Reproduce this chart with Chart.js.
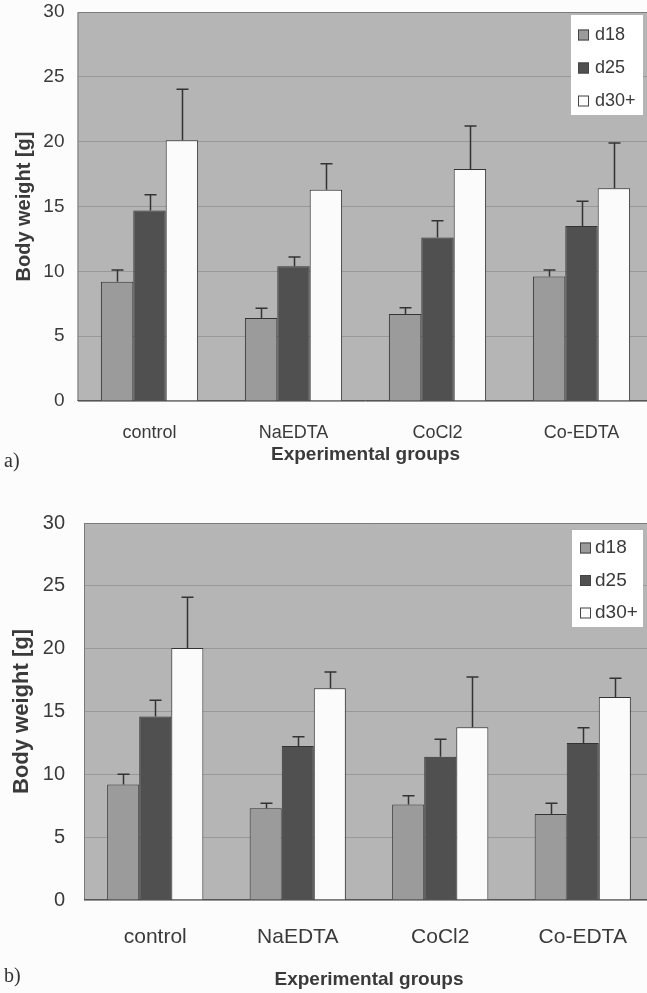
<!DOCTYPE html>
<html>
<head>
<meta charset="utf-8">
<script src="https://cdn.jsdelivr.net/npm/chart.js@4.4.0/dist/chart.umd.min.js"></script>
<style>
    html, body { margin: 0; padding: 0; background: #fcfcfc; overflow: hidden; width: 647px; height: 993px; }
    .panel { position: absolute; left: 0; width: 647px; overflow: hidden; }
    .tag { position: absolute; left: 4px; font-family: "Liberation Serif", "Times New Roman", serif; font-size: 20px; line-height: 24px; color: #333; }
</style>
</head>
<body>
<div class="panel" style="top:-20px;height:491px"><canvas id="chartA" width="656" height="491"></canvas></div>
<div class="tag" style="top:448px">a)</div>
<div class="panel" style="top:490px;height:502px"><canvas id="chartB" width="656" height="502"></canvas></div>
<div class="tag" style="top:963px">b)</div>
<script>
const groups = ['control', 'NaEDTA', 'CoCl2', 'Co-EDTA'];
const seriesLabels = ['d18', 'd25', 'd30+'];
const yTicks = [0, 5, 10, 15, 20, 25, 30];

// panel a) means and SD (upper whisker only)
const aD18 = [9.2, 6.4, 6.7, 9.6];
const aD25 = [14.7, 10.4, 12.6, 13.5];
const aD30 = [20.1, 16.3, 17.9, 16.4];
const aD18Sd = [0.9, 0.75, 0.5, 0.5];
const aD25Sd = [1.2, 0.7, 1.3, 1.9];
const aD30Sd = [3.95, 2.0, 3.3, 3.5];

// panel b)
const bD18 = [9.2, 7.3, 7.6, 6.85];
const bD25 = [14.6, 12.25, 11.4, 12.5];
const bD30 = [20.05, 16.85, 13.75, 16.15];
const bD18Sd = [0.8, 0.4, 0.7, 0.85];
const bD25Sd = [1.3, 0.75, 1.4, 1.2];
const bD30Sd = [4.05, 1.3, 4.0, 1.5];

const barColors = ['#9b9b9b', '#505050', '#fbfbfb'];
const inkColor = '#3a3a3a';
const sans = '"Liberation Sans", Arial, sans-serif';

const plotFrame = {
    id: 'plotFrame',
    beforeDraw(chart) {
        const { ctx, chartArea: a } = chart;
        ctx.save();
        ctx.fillStyle = '#b5b5b5';
        ctx.fillRect(a.left, a.top, a.width, a.height);
        ctx.restore();
    },
    beforeDatasetsDraw(chart) {
        const { ctx, chartArea: a } = chart;
        ctx.save();
        ctx.strokeStyle = '#7a7a7a';
        ctx.lineWidth = 1;
        ctx.beginPath();
        ctx.moveTo(a.right, a.top + 0.5);
        ctx.lineTo(a.left + 0.5, a.top + 0.5);
        ctx.lineTo(a.left + 0.5, a.bottom);
        ctx.stroke();
        ctx.strokeStyle = '#555';
        ctx.beginPath();
        ctx.moveTo(a.left, a.bottom - 0.5);
        ctx.lineTo(a.right, a.bottom - 0.5);
        ctx.stroke();
        ctx.restore();
    }
};

const errorBars = {
    id: 'errorBars',
    afterDatasetsDraw(chart) {
        const { ctx, scales: { y } } = chart;
        ctx.save();
        ctx.strokeStyle = '#333';
        ctx.lineWidth = 1.5;
        chart.data.datasets.forEach((ds, i) => {
            chart.getDatasetMeta(i).data.forEach((bar, j) => {
                const top = y.getPixelForValue(ds.data[j] + ds.errors[j]);
                const x = Math.round(bar.x) + 0.5;
                ctx.beginPath();
                ctx.moveTo(x, bar.y);
                ctx.lineTo(x, top);
                ctx.moveTo(x - 6, top);
                ctx.lineTo(x + 6, top);
                ctx.stroke();
            });
        });
        ctx.restore();
    }
};

const boxLegend = {
    id: 'boxLegend',
    afterDraw(chart, args, opts) {
        const { ctx, chartArea: a } = chart;
        const x0 = a.right - opts.right - opts.width;
        const y0 = a.top + opts.top;
        ctx.save();
        ctx.fillStyle = '#ffffff';
        ctx.fillRect(x0, y0, opts.width, opts.height);
        ctx.font = opts.fontSize + 'px ' + sans;
        ctx.textBaseline = 'middle';
        chart.data.datasets.forEach((ds, i) => {
            const cy = y0 + opts.first + i * opts.step;
            ctx.fillStyle = ds.backgroundColor;
            ctx.fillRect(x0 + opts.swatchX, cy - 5.5, 11, 11);
            ctx.strokeStyle = '#444';
            ctx.lineWidth = 1;
            ctx.strokeRect(x0 + opts.swatchX + 0.5, cy - 5, 10, 10);
            ctx.fillStyle = inkColor;
            ctx.fillText(ds.label, x0 + opts.textX, cy);
        });
        ctx.restore();
    }
};

function renderWeightChart(canvasId, series, errs, look) {
    const canvas = document.getElementById(canvasId);
    if (!canvas) return;
    const ctx = canvas.getContext('2d');

    const datasets = series.map((vals, k) => ({
        label: seriesLabels[k],
        data: vals,
        errors: errs[k],
        backgroundColor: barColors[k],
        borderColor: '#333',
        borderWidth: 1,
        categoryPercentage: 0.675,
        barPercentage: 1
    }));

    return new Chart(ctx, {
        type: 'bar',
        data: { labels: groups, datasets: datasets },
        options: {
            responsive: false,
            animation: false,
            devicePixelRatio: 1,
            layout: { padding: look.padding },
            plugins: {
                legend: { display: false },
                tooltip: { enabled: false },
                boxLegend: look.legend
            },
            scales: {
                x: {
                    grid: { display: false },
                    border: { display: false },
                    ticks: { color: inkColor, padding: look.xPad, font: { family: sans, size: look.xFont } },
                    title: {
                        display: true,
                        text: 'Experimental groups',
                        color: inkColor,
                        font: { family: sans, size: 19, weight: 'bold' },
                        padding: { top: 0, bottom: look.xTitlePad }
                    },
                    afterFit: s => { s.height = look.xHeight; }
                },
                y: {
                    min: 0,
                    max: 30,
                    afterBuildTicks: s => { s.ticks = yTicks.map(v => ({ value: v })); },
                    grid: { color: '#989898', drawTicks: false },
                    border: { display: false },
                    ticks: { color: inkColor, padding: look.yPad, font: { family: sans, size: look.yFont } },
                    title: {
                        display: true,
                        text: 'Body weight [g]',
                        color: inkColor,
                        font: { family: sans, size: look.yTitleFont, weight: 'bold' },
                        padding: { top: look.yTitlePad, bottom: 0 }
                    },
                    afterFit: s => { s.width = look.yWidth; }
                }
            }
        },
        plugins: [plotFrame, errorBars, boxLegend]
    });
}

renderWeightChart('chartA', [aD18, aD25, aD30], [aD18Sd, aD25Sd, aD30Sd], {
    padding: { top: 32, right: 2.5, bottom: 0, left: 0 },
    xPad: 13, xFont: 18, xTitlePad: 4.6, xHeight: 70,
    yPad: 13, yFont: 19, yTitleFont: 20, yTitlePad: 12, yWidth: 77.5,
    legend: { right: 10.5, top: 3, width: 72, height: 100, first: 20, step: 33, swatchX: 7, textX: 24, fontSize: 18 }
});

renderWeightChart('chartB', [bD18, bD25, bD30], [bD18Sd, bD25Sd, bD30Sd], {
    padding: { top: 33, right: 2, bottom: 0, left: 0 },
    xPad: 16.5, xFont: 21, xTitlePad: 0.6, xHeight: 92,
    yPad: 19, yFont: 20, yTitleFont: 22, yTitlePad: 9, yWidth: 84,
    legend: { right: 11, top: 7, width: 71, height: 97, first: 18, step: 32.5, swatchX: 8, textX: 23, fontSize: 19 }
});
</script>
</body>
</html>
